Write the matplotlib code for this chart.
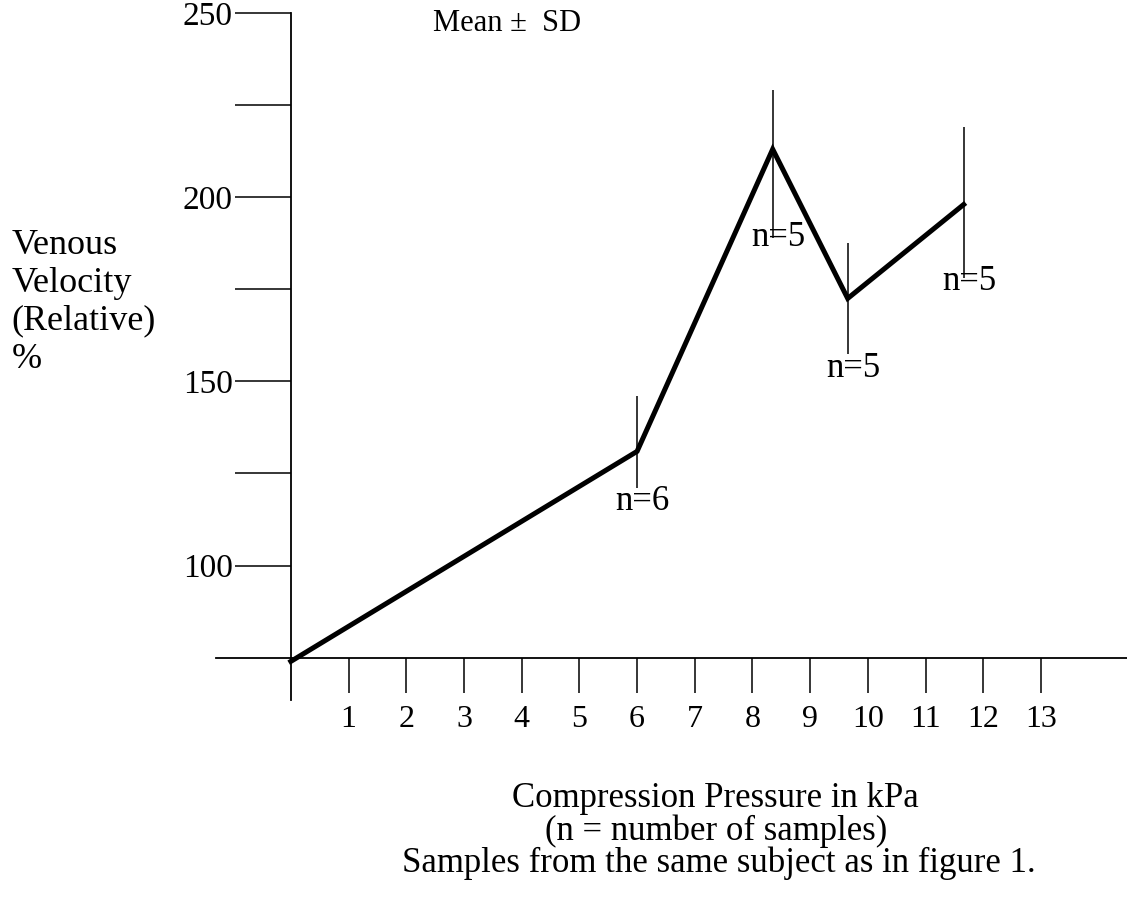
import matplotlib
matplotlib.use("Agg")
import matplotlib.pyplot as plt

# pressure (kPa), mean relative venous velocity (%), SD below / above, samples
pressure = [0.0, 6.0, 8.35, 9.65, 11.66]
velocity = [74, 131, 213, 172.5, 198]
sd_low = [0, 10, 24, 15, 20]
sd_high = [0, 15, 16, 15, 21]
samples = [None, 6, 5, 5, 5]

xticks = list(range(1, 14))
yticks = [100, 125, 150, 175, 200, 225, 250]
ytick_labels = ["100", "", "150", "", "200", "", "250"]

plt.rcParams['font.family'] = ['Liberation Serif', 'DejaVu Serif']

fig = plt.figure(figsize=(11.27, 9.09), dpi=100)
ax = fig.add_axes([0, 0, 1, 1])
ax.set_xlim(-5.04, 14.49)
ax.set_ylim(6.8, 253.5)

ax.spines['top'].set_visible(False)
ax.spines['right'].set_visible(False)
ax.spines['left'].set_position(('data', 0))
ax.spines['bottom'].set_position(('data', 75))
ax.spines['left'].set_bounds(63.5, 250)
ax.spines['bottom'].set_bounds(-1.3, 14.5)
ax.spines['left'].set_linewidth(1.3)
ax.spines['bottom'].set_linewidth(1.3)

ax.set_xticks(xticks)
ax.set_xticklabels([str(t) for t in xticks])
ax.set_yticks(yticks)
ax.set_yticklabels(ytick_labels)
ax.tick_params(axis='x', direction='out', length=25, width=1.1, pad=9, labelsize=23)
ax.tick_params(axis='y', direction='out', length=40, width=1.1, pad=2, labelsize=24)

ax.plot(pressure, velocity, color='black', lw=3.6, solid_joinstyle='miter', zorder=3)
ax.errorbar(pressure[1:], velocity[1:], yerr=[sd_low[1:], sd_high[1:]],
            fmt='none', ecolor='black', elinewidth=1.1, capsize=0, zorder=2)

# n labels at the foot of each error bar
offsets = [None, -3.5, 0, -4, -1]
for x, y, lo, n, off in zip(pressure, velocity, sd_low, samples, offsets):
    if n is None:
        continue
    ax.text(x + 0.1, y - lo + off, "n=%d" % n, fontsize=25, ha='center', va='center')

ax.text(3.75, 247, "Mean \u00b1  SD", fontsize=22, ha='center', va='center')

ax.text(-4.84, 171.5, "Venous\nVelocity\n(Relative)\n%", fontsize=26,
        ha='left', va='center', linespacing=1.2)

fig.text(0.635, 0.112, "Compression Pressure in kPa", fontsize=25, ha='center', va='baseline')
fig.text(0.635, 0.076, "(n = number of samples)", fontsize=25, ha='center', va='baseline')
fig.text(0.638, 0.041, "Samples from the same subject as in figure 1.", fontsize=25,
         ha='center', va='baseline')

fig.savefig("out.png", dpi=100)
